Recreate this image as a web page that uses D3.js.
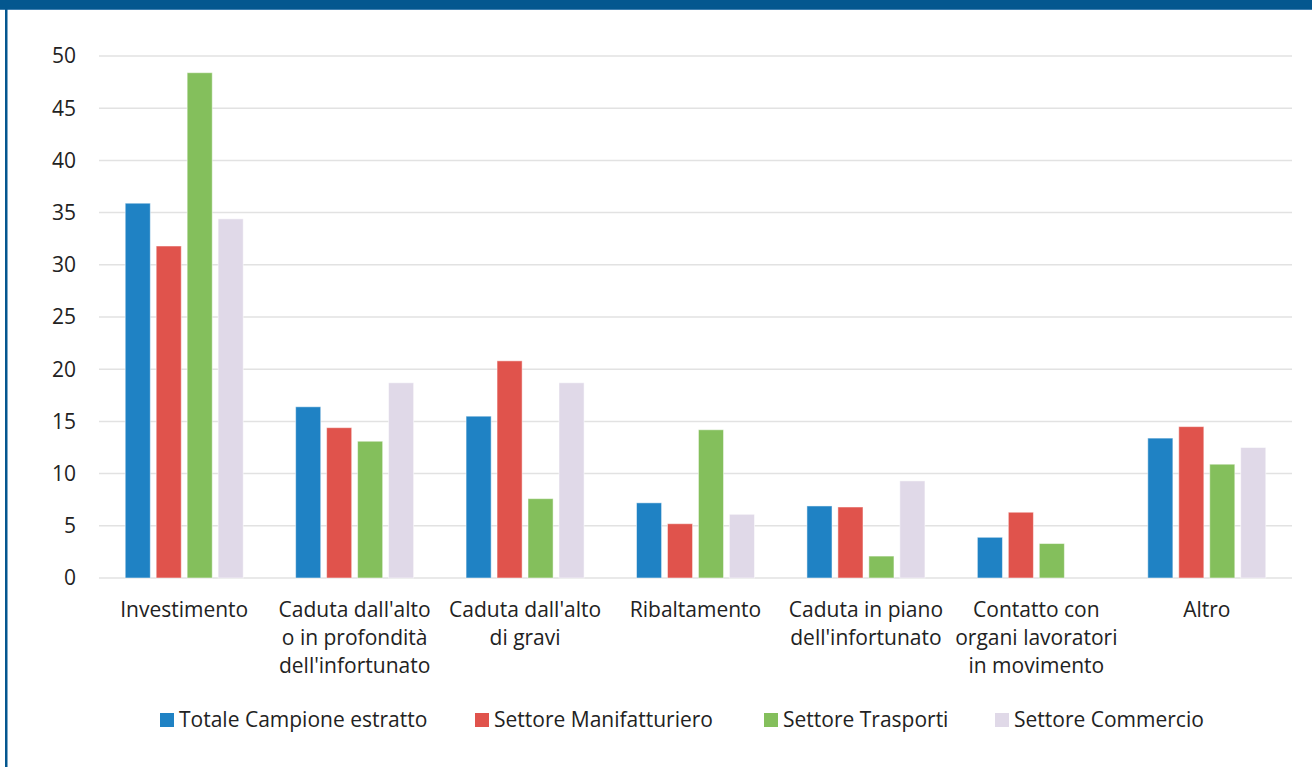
<!DOCTYPE html>
<html>
<head>
<meta charset="utf-8">
<script src="https://cdn.jsdelivr.net/npm/d3@7"></script>
<style>
  body { margin: 0; background: #fff; font-family: "Open Sans", sans-serif; }
  #chart svg { display: block; }
</style>
</head>
<body>
<div id="chart"></div>
<script>
// categories and series (percent values)
const categories = [
    ["Investimento"],
    ["Caduta dall'alto", "o in profondità", "dell'infortunato"],
    ["Caduta dall'alto", "di gravi"],
    ["Ribaltamento"],
    ["Caduta in piano", "dell'infortunato"],
    ["Contatto con", "organi lavoratori", "in movimento"],
    ["Altro"]
];
const seriesNames = ["Totale Campione estratto", "Settore Manifatturiero", "Settore Trasporti", "Settore Commercio"];
const totale = [35.9, 16.4, 15.5, 7.2, 6.9, 3.9, 13.4];
const manifatturiero = [31.8, 14.4, 20.8, 5.2, 6.8, 6.3, 14.5];
const trasporti = [48.4, 13.1, 7.6, 14.2, 2.1, 3.3, 10.9];
const commercio = [34.4, 18.7, 18.7, 6.1, 9.3, 0, 12.5];
const yTicks = [0, 5, 10, 15, 20, 25, 30, 35, 40, 45, 50];
const colors = ["#1f82c4", "#e0534c", "#84bf5c", "#e0d9e8"];

function drawChart() {
    const W = 1312, H = 767;
    const svg = d3.select("#chart").append("svg")
        .attr("width", W)
        .attr("height", H);

    // frame: dark blue band on top and a thin line on the left
    svg.append("rect").attr("x", 0).attr("y", 0).attr("width", W).attr("height", 9).attr("fill", "#04578f");
    svg.append("rect").attr("x", 0).attr("y", 9).attr("width", W).attr("height", 1).attr("fill", "#3f7fb0");
    svg.append("rect").attr("x", 5).attr("y", 9).attr("width", 2.5).attr("height", H).attr("fill", "#04578f");

    const plotLeft = 99, plotRight = 1292;
    const fontSize = 21;

    const idx = d3.range(categories.length);
    const x = d3.scaleBand()
        .domain(idx)
        .range([plotLeft, plotRight]);

    const y = d3.scaleLinear()
        .domain([0, 50])
        .range([578, 56]);

    const series = [totale, manifatturiero, trasporti, commercio];
    const groupW = 118;
    const inner = d3.scaleBand()
        .domain(d3.range(series.length))
        .range([0, groupW])
        .paddingInner(0.19);

    // gridlines
    svg.append("g")
        .selectAll("line")
        .data(yTicks)
        .join("line")
        .attr("x1", plotLeft)
        .attr("x2", plotRight)
        .attr("y1", d => y(d))
        .attr("y2", d => y(d))
        .attr("stroke", "#e2e2e2")
        .attr("stroke-width", 1.5);

    // y tick labels
    svg.append("g")
        .selectAll("text")
        .data(yTicks)
        .join("text")
        .attr("x", 76)
        .attr("y", d => y(d))
        .attr("dy", "0.35em")
        .attr("text-anchor", "end")
        .attr("font-size", fontSize)
        .attr("fill", "#222")
        .text(d => d);

    // bars
    const groups = svg.append("g")
        .selectAll("g")
        .data(idx)
        .join("g")
        .attr("transform", i => `translate(${x(i) + x.bandwidth() / 2 - groupW / 2},0)`);

    groups.selectAll("rect")
        .data(i => series.map((s, k) => ({ k, v: s[i] })))
        .join("rect")
        .filter(d => d.v > 0)
        .attr("x", d => inner(d.k))
        .attr("width", inner.bandwidth())
        .attr("y", d => y(d.v))
        .attr("height", d => y(0) - y(d.v))
        .attr("fill", d => colors[d.k])
        .attr("stroke", "#fff")
        .attr("stroke-opacity", 0.5)
        .attr("stroke-width", 1);

    // category labels
    const labels = svg.append("g")
        .selectAll("text")
        .data(idx)
        .join("text")
        .attr("text-anchor", "middle")
        .attr("font-size", fontSize)
        .attr("fill", "#222")
        .attr("x", i => x(i) + x.bandwidth() / 2)
        .attr("y", 617);
    labels.selectAll("tspan")
        .data(i => categories[i].map(t => ({ t, i })))
        .join("tspan")
        .attr("x", d => x(d.i) + x.bandwidth() / 2)
        .attr("dy", (d, j) => j === 0 ? 0 : 28)
        .text(d => d.t);

    // legend
    const legendX = [160, 475, 764, 995];
    const legend = svg.append("g")
        .selectAll("g")
        .data(seriesNames)
        .join("g")
        .attr("transform", (d, k) => `translate(${legendX[k]},713)`);
    legend.append("rect")
        .attr("width", 14)
        .attr("height", 14)
        .attr("fill", (d, k) => colors[k]);
    legend.append("text")
        .attr("x", 19)
        .attr("y", 7)
        .attr("dy", "0.35em")
        .attr("font-size", fontSize)
        .attr("fill", "#222")
        .text(d => d);
}

drawChart();
</script>
</body>
</html>
